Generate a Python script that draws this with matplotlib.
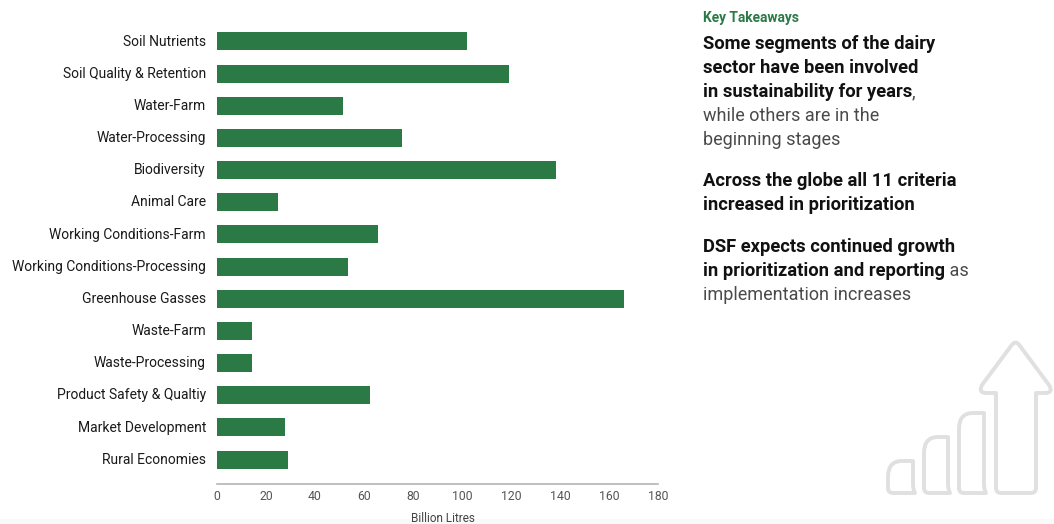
# plot.py
# Dairy sustainability criteria bar chart with key takeaways panel

import matplotlib.pyplot as plt
from matplotlib.patches import PathPatch, Rectangle
from matplotlib.path import Path
from matplotlib.transforms import ScaledTranslation

categories = ['Soil Nutrients', 'Soil Quality & Retention', 'Water-Farm', 'Water-Processing',
              'Biodiversity', 'Animal Care', 'Working Conditions-Farm',
              'Working Conditions-Processing', 'Greenhouse Gasses', 'Waste-Farm',
              'Waste-Processing', 'Product Safety & Qualtiy', 'Market Development', 'Rural Economies']
values = [102, 119, 51.5, 75.5, 138.4, 25, 65.7, 53.3, 166, 14.3, 14.3, 62.5, 27.8, 29]
x_ticks = [0, 20, 40, 60, 80, 100, 120, 140, 160, 180]

GREEN = '#2b7a45'
W, H = 1054, 524

plt.rcParams['font.family'] = ['Roboto', 'DejaVu Sans']

fig = plt.figure(figsize=(W / 100, H / 100), dpi=100, facecolor='white')

# overlay in pixel units for the side panel and the icon
bg = fig.add_axes([0, 0, 1, 1])
bg.set_xlim(0, W)
bg.set_ylim(H, 0)
bg.axis('off')
bg.add_patch(Rectangle((0, 519), W, 5, color='#f9f9f9', lw=0))

# bar chart
ax = fig.add_axes([217 / W, 1 - 484 / H, (658 - 217) / W, (484 - 25.4) / H])
ax.patch.set_alpha(0)
ax.barh(range(len(values)), values, height=0.56, color=GREEN)
ax.set_xlim(0, 180)
ax.set_ylim(13.76, -0.5)
ax.set_yticks(range(len(categories)))
ax.set_yticklabels(categories, fontsize=10, color='#1a1a1a')
ax.set_xticks(x_ticks)
ax.tick_params(axis='y', length=0, pad=8)
ax.tick_params(axis='x', length=0, pad=4, labelsize=8.8, labelcolor='#555555')
for side in ['top', 'right', 'left']:
    ax.spines[side].set_visible(False)
ax.spines['bottom'].set_color('#b5b5b5')
ax.spines['bottom'].set_linewidth(1.2)
ax.set_xlabel('Billion Litres', fontsize=8.5, color='#444444')
ax.xaxis.set_label_coords((442.5 - 217) / 441, -28 / 458.6)

# category labels sit a little above the bar centres
nudge = ScaledTranslation(0, 1.3 / 100, fig.dpi_scale_trans)
for label in ax.get_yticklabels():
    label.set_transform(label.get_transform() + nudge)


def draw_line(x, y, parts):
    """Draw bold/regular runs one after another on a baseline"""
    renderer = fig.canvas.get_renderer()
    for content, weight in parts:
        if weight == 'bold':
            t = bg.text(x, y, content, fontsize=13.2, va='baseline', ha='left', fontweight='bold', color='#111111')
        else:
            t = bg.text(x, y, content, fontsize=12.95, va='baseline', ha='left', fontweight='normal', color='#4a4a4a')
        x = t.get_window_extent(renderer).x1


bg.text(703, 22, 'Key Takeaways', fontsize=9.9, fontweight='bold', color=GREEN, va='baseline')

takeaways = [
    (49, [('Some segments of the dairy', 'bold')]),
    (73, [('sector have been involved', 'bold')]),
    (97, [('in sustainability for years', 'bold'), (',', 'normal')]),
    (121, [('while others are in the', 'normal')]),
    (145, [('beginning stages', 'normal')]),
    (186, [('Across the globe all 11 criteria', 'bold')]),
    (210, [('increased in prioritization', 'bold')]),
    (252, [('DSF expects continued growth', 'bold')]),
    (276, [('in prioritization and reporting', 'bold'), (' as', 'normal')]),
    (300, [('implementation increases', 'normal')]),
]
for y, parts in takeaways:
    draw_line(703, y, parts)

# growth arrow icon
M, L, Q, C = Path.MOVETO, Path.LINETO, Path.CURVE3, Path.CLOSEPOLY
arrow = [((1011, 346), M), ((982, 385), L), ((978, 393), Q), ((986, 393), Q),
         ((996, 393), L), ((996, 488), L), ((996, 493), Q), ((1001, 493), Q),
         ((1031, 493), L), ((1036, 493), Q), ((1036, 488), Q), ((1036, 393), L),
         ((1045, 393), L), ((1054, 393), Q), ((1049, 385), Q), ((1020, 346), L),
         ((1015.5, 339), Q), ((1011, 346), Q), ((1011, 346), C)]
icon_color = '#e0e0e0'
shapes = [arrow]
for left, right, top in [(888, 913, 461), (924, 948, 437), (959, 984, 413)]:
    shapes.append([((right, top), M), ((left + 14, top), L), ((left, top), Q), ((left, top + 16), Q),
                   ((left, 488), L), ((left, 493), Q), ((left + 5, 493), Q), ((right + 2, 493), L),
                   ((right, 490), Q), ((right, 484), Q), ((right, top), L), ((right, top), C)])
for shape in shapes:
    verts, codes = zip(*shape)
    bg.add_patch(PathPatch(Path(verts, codes), fill=False, edgecolor=icon_color, lw=2.8, joinstyle='round'))

fig.savefig('out.png', dpi=100)
